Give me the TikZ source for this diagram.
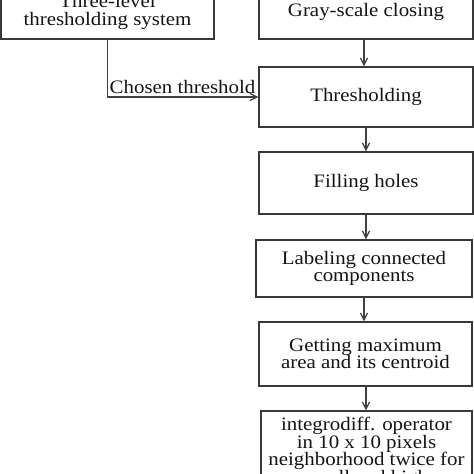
\documentclass[tikz,border=0pt]{standalone}
\usepackage{fontspec}
\setmainfont{Liberation Serif}[FakeStretch=1.1]
\usetikzlibrary{arrows.meta,calc}
\begin{document}
\begin{tikzpicture}[x=1pt,y=-1pt,
  boxstyle/.style={draw=black!78,line width=1.4pt,fill=white,align=center,inner sep=2pt,
    text=black!92,font=\fontsize{19}{17.5}\selectfont},
  arr/.style={draw=black!75,line width=1.2pt,-{Straight Barb[length=7pt,width=7pt]}},
  lbl/.style={text=black!92,font=\fontsize{19}{17.5}\selectfont,inner sep=0pt}]
\useasboundingbox (0,0) rectangle (474,474);
\clip (0,0) rectangle (474,474);
\node[boxstyle,minimum width=213pt,minimum height=54pt] (L) at (107.5,12) {Three-level\\thresholding system};
\node[boxstyle,minimum width=214pt,minimum height=55pt] (G) at (366,11.5) {Gray-scale closing};
\node[boxstyle,minimum width=214pt,minimum height=60pt] (B2) at (366,97) {Thresholding};
\node[boxstyle,minimum width=214pt,minimum height=62pt] (B3) at (366,183) {Filling holes};
\node[boxstyle,minimum width=216pt,minimum height=57pt] (B4) at (364,268.5) {Labeling connected\\components};
\node[boxstyle,minimum width=213pt,minimum height=64pt] (B5) at (365.5,354) {Getting maximum\\area and its centroid};
\node[boxstyle,minimum width=211pt,minimum height=82.6pt] (B6) at (366.5,452.3) {integrodiff. operator\\in 10 x 10 pixels\\neighborhood twice for\\small and high};
\coordinate (corner) at (L.south |- B2.west);
\draw[arr] (L.south) -- (corner) -- (B2.west);
\node[lbl,anchor=base west] (chosen) at ($(corner)+(2,-4)$) {Chosen threshold};
\draw[arr] ([xshift=-2pt]G.south) -- ([xshift=-2pt]G.south |- B2.north);
\draw[arr] (B2.south) -- (B2.south |- B3.north);
\draw[arr] (B3.south) -- (B3.south |- B4.north);
\draw[arr] (B4.south) -- (B4.south |- B5.north);
\draw[arr] ([xshift=0.5pt]B5.south) -- ([xshift=0.5pt]B5.south |- B6.north);
\end{tikzpicture}
\end{document}
